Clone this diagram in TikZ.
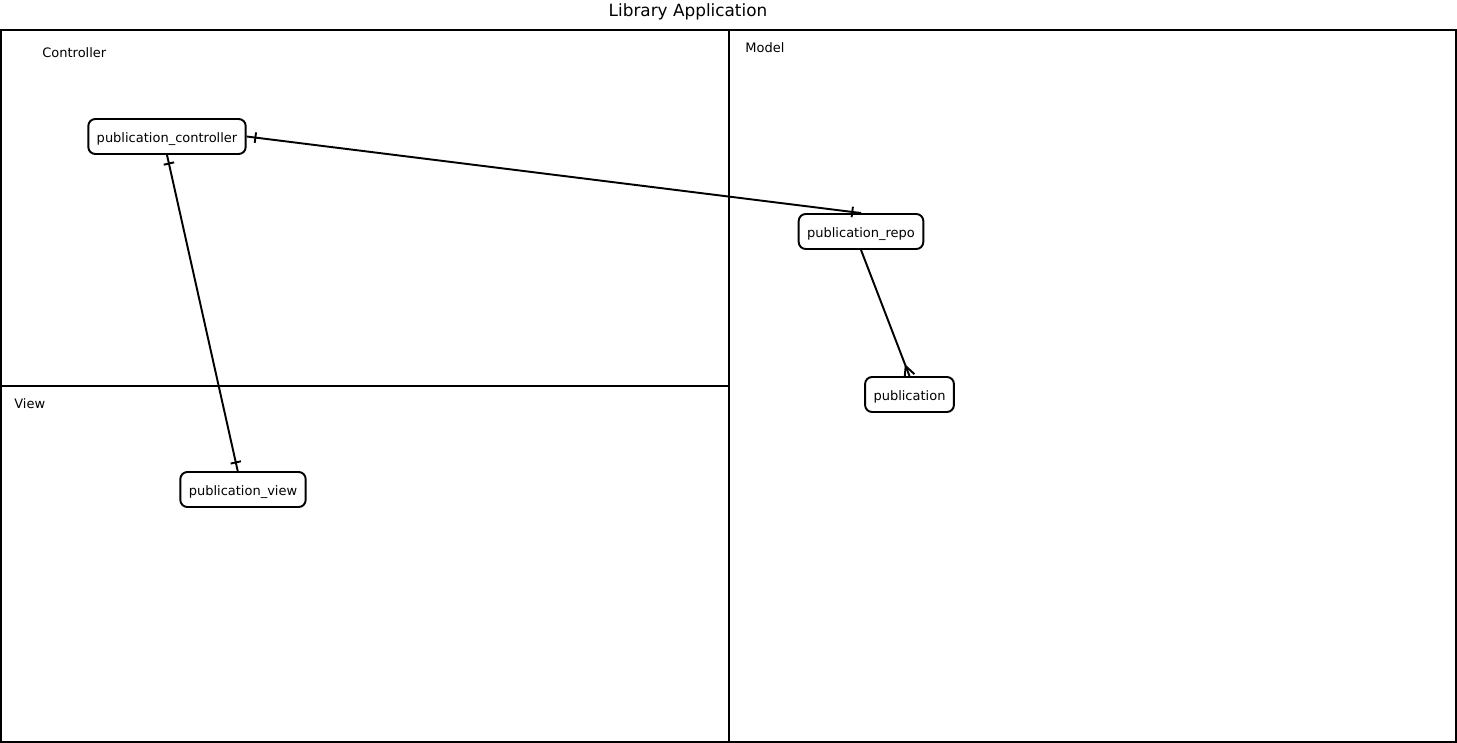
\documentclass[tikz,border=0pt]{standalone}
\usepackage{fontspec}
\setmainfont{DejaVu Sans}
\usetikzlibrary{decorations.markings}
\tikzset{   entity/.style = {rectangle, draw = black, line width=1.1pt, rounded corners=4pt, fill = white, inner xsep=4.8pt, minimum height=0.7cm, text height=1.6ex, text depth=0.3ex, font=\fontsize{7.4}{9}\selectfont},
            panel/.style = {draw = black, line width=0.85pt},
            tag/.style = {anchor=west, inner sep=0pt, font=\fontsize{7.4}{9}\selectfont},
            oneone/.style = {line width=1.1pt, postaction={decorate}, decoration={markings,
                          mark=at position 5pt with {\draw[line width=1.1pt] (0,-3pt) -- (0,3pt);},
                          mark=at position -5pt with {\draw[line width=1.1pt] (0,-3pt) -- (0,3pt);}}},
            onemany/.style = {line width=1.1pt, postaction={decorate}, decoration={markings,
                          mark=at position 1 with {\draw[line width=1.1pt] (-6pt,0) -- (0,-3pt) (-6pt,0) -- (0,3pt);}}}}

\begin{document}
\begin{tikzpicture}[x=0.02cm, y=-0.02cm]
                        \useasboundingbox (0,0) rectangle (1457,743);
                        % title and panels
                        \node[font=\fontsize{9.6}{11}\selectfont] (title) at (688,11.5) {Library Application};
                        \draw[panel] (1,30) rectangle (1456,742);
                        \draw[panel] (729,30) -- (729,742);
                        \draw[panel] (1,386) -- (729,386);
                        \node[tag] (ctrltag) at (42,53) {Controller};
                        \node[tag] (modeltag) at (745,48) {Model};
                        \node[tag] (viewtag) at (14,404) {View};
                        % entities
                        \node[entity] (ctrl) at (167,136.5) {publication\_controller};
                        \node[entity] (repo) at (861,231.5) {publication\_repo};
                        \node[entity] (pub) at (909.5,394.5) {publication};
                        \node[entity] (view) at (243,489.5) {publication\_view};
                        % relations
                        \draw[oneone] (ctrl.east) -- (repo.north);
                        \draw[oneone] (ctrl.south) -- ([xshift=-3pt]view.north);
                        \draw[onemany] (repo.south) -- (pub.north);
\end{tikzpicture}
\end{document}
